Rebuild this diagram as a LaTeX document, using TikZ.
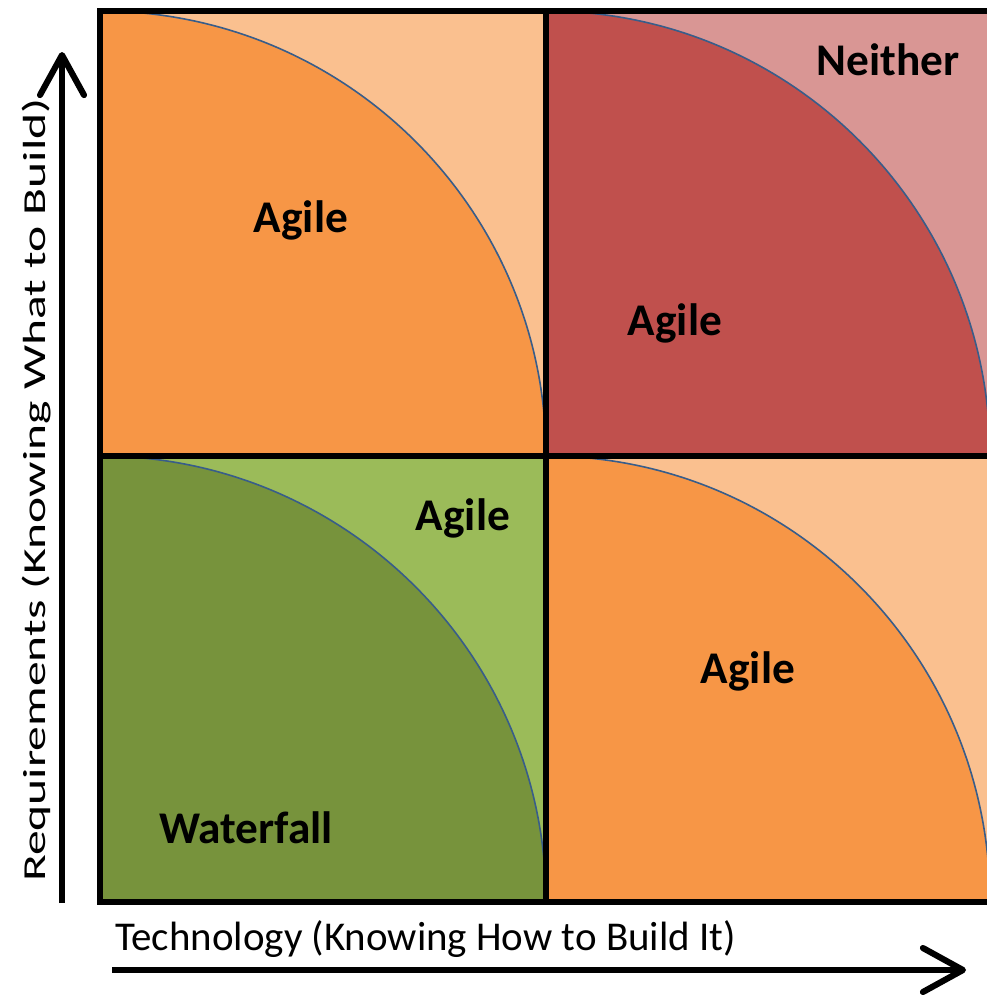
\documentclass[tikz,border=0pt]{standalone}
\usepackage{fontspec}
\setmainfont{Carlito}
\usetikzlibrary{arrows.meta}

\definecolor{orangeDark}{RGB}{247,150,70}
\definecolor{orangeLight}{RGB}{250,192,143}
\definecolor{redDark}{RGB}{192,80,77}
\definecolor{redLight}{RGB}{217,150,148}
\definecolor{greenDark}{RGB}{119,147,60}
\definecolor{greenLight}{RGB}{155,187,89}
\definecolor{arcEdge}{RGB}{56,93,138}

\tikzset{
  zone/.style={font=\fontsize{34}{40}\selectfont\bfseries, text=black, inner sep=0.75pt},
  axis/.style={line width=4.6pt, -{Straight Barb[length=30pt,width=33pt,round]}},
  grid line/.style={line width=4.8pt, line cap=rect}
}

\begin{document}
\begin{tikzpicture}[x=0.75pt,y=0.75pt,yscale=-1,xscale=1]
\useasboundingbox (0,0) rectangle (987,996);
% backgrounds of the four quadrants
\fill [orangeLight] (100,11) rectangle (546,456);
\fill [redLight] (546,11) rectangle (990,456);
\fill [greenLight] (100,456) rectangle (546,902);
\fill [orangeLight] (546,456) rectangle (990,902);
% quarter ellipses
\fill [orangeDark] (100,11) .. controls (346.3,11) and (546,210.2) .. (546,456) -- (100,456) -- cycle ;
\draw [arcEdge, line width=1.2pt] (100,11) .. controls (346.3,11) and (546,210.2) .. (546,456) ;
\fill [redDark] (546,11) .. controls (791.2,11) and (990,210.2) .. (990,456) -- (546,456) -- cycle ;
\draw [arcEdge, line width=1.2pt] (546,11) .. controls (791.2,11) and (990,210.2) .. (990,456) ;
\fill [greenDark] (100,456) .. controls (346.3,456) and (546,655.7) .. (546,902) -- (100,902) -- cycle ;
\draw [arcEdge, line width=1.2pt] (100,456) .. controls (346.3,456) and (546,655.7) .. (546,902) ;
\fill [orangeDark] (546,456) .. controls (791.2,456) and (990,655.7) .. (990,902) -- (546,902) -- cycle ;
\draw [arcEdge, line width=1.2pt] (546,456) .. controls (791.2,456) and (990,655.7) .. (990,902) ;
% frame and dividers
\draw [grid line] (100,11) rectangle (990,902);
\draw [grid line] (546,11) -- (546,902);
\draw [grid line] (100,456) -- (990,456);
% labels
\node [zone, anchor=base] (agileTL) at (301,232) {Agile};
\node [zone, anchor=base] (neither) at (888,75) {Neither};
\node [zone, anchor=base] (agileTR) at (675,335) {Agile};
\node [zone, anchor=base] (agileBL) at (463,530) {Agile};
\node [zone, anchor=base] (waterfall) at (246,843) {Waterfall};
\node [zone, anchor=base] (agileBR) at (748,683) {Agile};
% axes
\coordinate (yFoot) at (62,903);
\coordinate (yTip) at (62,52);
\coordinate (xFoot) at (112,970);
\coordinate (xTip) at (966,970);
\draw [axis] (yFoot) -- (yTip);
\draw [axis] (xFoot) -- (xTip);
\node [anchor=base west, inner sep=0pt, font=\fontsize{30.7}{36}\selectfont] (techLabel) at (115,950) {Technology (Knowing How to Build It)};
\node [anchor=base, rotate=90, inner sep=0pt, font=\fontsize{30}{34}\selectfont] (reqLabel) at (45,490) {\scalebox{1.24}[0.8]{Requirements (Knowing What to Build)}};
\end{tikzpicture}
\end{document}
